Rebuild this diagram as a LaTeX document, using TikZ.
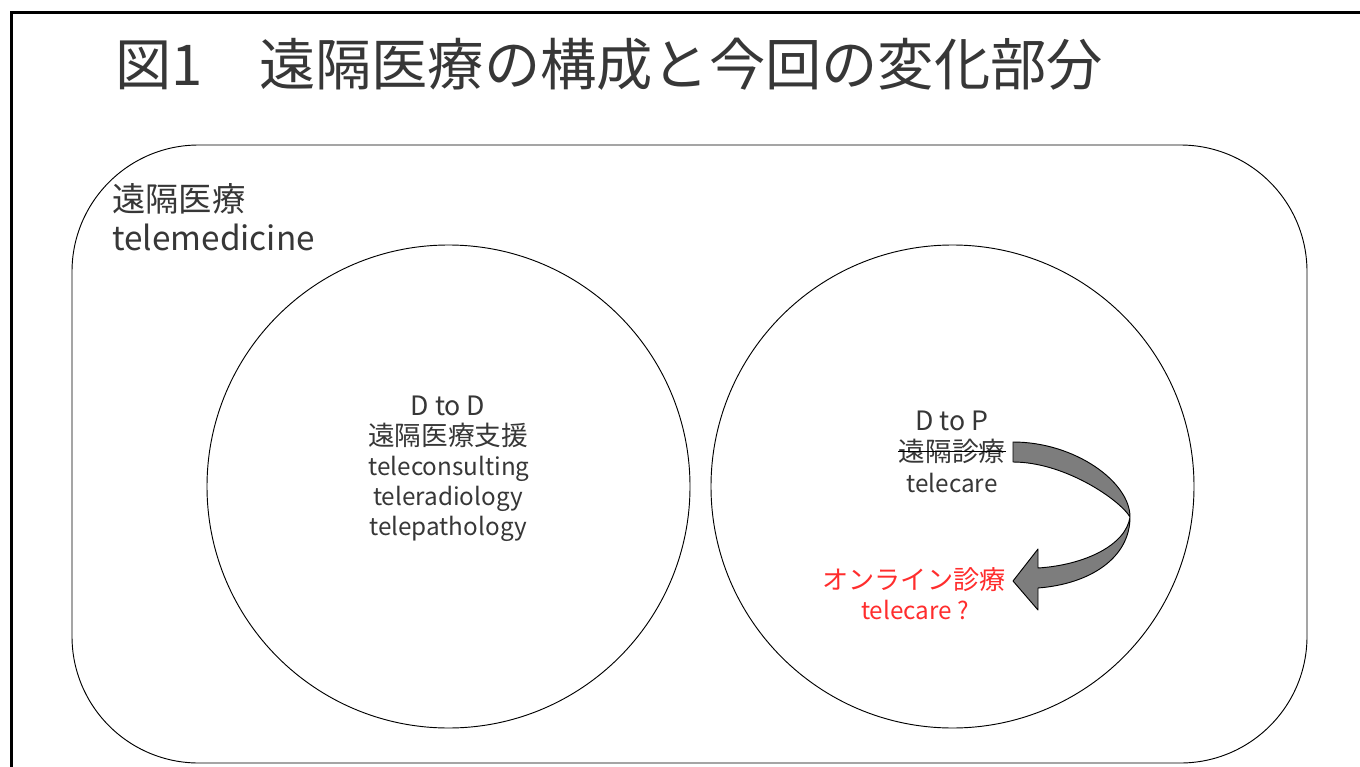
\documentclass[tikz,border=0pt]{standalone}
\usepackage{fontspec}
\setmainfont{Noto Sans CJK JP}
\definecolor{txt}{RGB}{55,55,55}
\definecolor{redtxt}{RGB}{255,45,45}
\definecolor{arrowfill}{RGB}{125,125,125}
\begin{document}
\begin{tikzpicture}[x=0.75pt,y=-0.75pt,
  ln/.style={draw=black,line width=0.7pt},
  body/.style={inner sep=0pt,anchor=base,text=txt,font=\fontsize{20}{22}\selectfont},
  latin/.style={body,font=\fontsize{18.2}{22}\selectfont},
  redbody/.style={body,text=redtxt,font=\fontsize{19.6}{22}\selectfont},
  redlatin/.style={latin,text=redtxt}]
\useasboundingbox (0,0) rectangle (1360,767);
\clip (0,0) rectangle (1360,767);
\fill[white] (0,0) rectangle (1360,767);
% outer frame (extends beyond the picture on the right and bottom)
\draw[line width=2.2pt,black] (11.5,12.5) rectangle (1420,830);
% title
\node[inner sep=0pt,anchor=base west,text=txt,font=\fontsize{42.2}{46}\selectfont] (title) at (115,86) {図1　遠隔医療の構成と今回の変化部分};
% rounded frame
\draw[ln,rounded corners=95] (72,145) rectangle (1307,763);
\node[inner sep=0pt,anchor=base west,text=txt,font=\fontsize{25}{28}\selectfont] (tm1) at (112,211) {遠隔医療};
\node[inner sep=0pt,anchor=base west,text=txt,font=\fontsize{25}{28}\selectfont] (tm2) at (112,250) {telemedicine};
% circles (diameter 483 px = 362.25 pt)
\node[ln,circle,minimum size=362.25pt,inner sep=0pt] (cl) at (448.5,486.5) {};
\node[ln,circle,minimum size=362.25pt,inner sep=0pt] (cr) at (952.5,486.5) {};
% left circle text
\node[body] (l1) at (448,415) {D to D};
\node[body] (l2) at (448,445) {遠隔医療支援};
\node[latin] (l3) at (449,475) {teleconsulting};
\node[latin] (l4) at (448,505) {teleradiology};
\node[latin] (l5) at (448,535) {telepathology};
% right circle text
\node[body] (r1) at (952,430) {D to P};
\node[body] (r2) at (952,461) {遠隔診療};
\node[latin] (r3) at (952,492) {telecare};
\draw[black,line width=1pt] ([yshift=-0.5pt]r2.west) -- ([yshift=-0.5pt]r2.east);
\node[redbody] (n1) at (914,589) {オンライン診療};
\node[redlatin] (n2) at (915,619) {telecare ?};
% curved block arrow
\draw[fill=arrowfill,draw=black,line width=0.7pt,line join=round]
  (1013,442) .. controls (1075,442) and (1130,482) .. (1130,517)
  .. controls (1130,558) and (1090,584) .. (1038,588)
  -- (1038,610) -- (1013,581) -- (1038,549) -- (1038,568)
  .. controls (1085,565) and (1126,545) .. (1130,517)
  .. controls (1120,500) and (1065,462) .. (1013,462) -- cycle;
\end{tikzpicture}
\end{document}
